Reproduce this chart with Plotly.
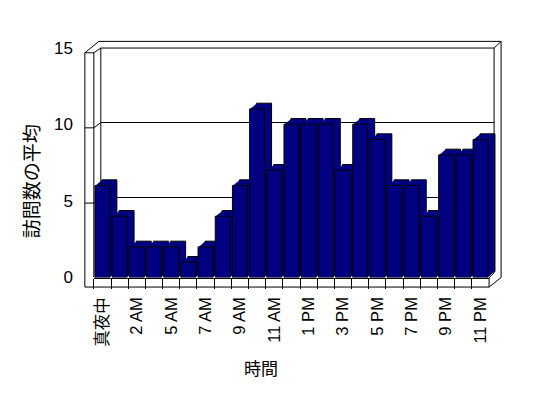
import plotly.graph_objects as go

# ---- data ----
hours = ["真夜中", "1 AM", "2 AM", "3 AM", "5 AM", "6 AM", "7 AM", "8 AM", "9 AM",
         "10 AM", "11 AM", "正午", "1 PM", "2 PM", "3 PM", "4 PM", "5 PM", "6 PM",
         "7 PM", "8 PM", "9 PM", "10 PM", "11 PM"]
visits = [6, 4, 2, 2, 2, 1, 2, 4, 6, 11, 7, 10, 10, 10, 7, 10, 9, 6, 6, 4, 8, 8, 9]
y_ticks = [0, 5, 10, 15]
grid_vals = [5, 10]
x_title = "時間"
y_title = "訪問数の平均"

W, H = 548, 398
def fx(p): return p / W
def fy(p): return 1 - p / H

NAVY = "#000080"
FONT = "Liberation Sans, Arial, Noto Sans CJK JP, sans-serif"
CJK = "Noto Sans CJK JP, sans-serif"

# geometry (px)
X0, X1 = 93, 489          # front floor edge
Y0, Y15 = 282, 40.5       # front bar scale
WX0, WX1 = 100, 494       # back wall
WY0, WY15 = 277.3, 40.3   # back wall scale
DX, DY = 7, 6             # depth

fig = go.Figure()
layout = dict(
    width=W, height=H, autosize=False,
    margin=dict(l=0, r=0, t=0, b=0),
    paper_bgcolor="white", plot_bgcolor="rgba(0,0,0,0)",
    showlegend=False, bargap=0.13, hovermode=False,
)

# subplot 1: back wall gridlines
fig.add_trace(go.Scatter(x=[], y=[], xaxis="x", yaxis="y"))
layout["xaxis"] = dict(domain=[fx(WX0), fx(WX1)], range=[0, 1], anchor="y",
                       showgrid=False, showticklabels=False, ticks="",
                       zeroline=False, showline=False)
layout["yaxis"] = dict(domain=[fy(WY0), fy(WY15)], range=[0, 15], anchor="x",
                       tickmode="array", tickvals=grid_vals, showticklabels=False,
                       ticks="", showgrid=True, gridcolor="black", gridwidth=1,
                       zeroline=False, showline=False)

# bar copies for a 3-D look: back (outlined), intermediates, front (outlined)
shifts = [7, 6, 5, 4, 3, 2, 1, 0]
for i, k in enumerate(shifts):
    idx = i + 2
    dx = k
    dy = k * DY / DX
    outlined = k in (0, DX)
    fig.add_trace(go.Bar(
        x=hours, y=visits, xaxis=f"x{idx}", yaxis=f"y{idx}",
        marker=dict(color=NAVY,
                    line=dict(color="black", width=1 if outlined else 0)),
    ))
    xa = dict(domain=[fx(X0 + dx), fx(X1 + dx)], anchor=f"y{idx}",
              type="category", range=[-0.5, len(hours) - 0.5])
    ya = dict(domain=[fy(Y0 - dy), fy(Y15 - dy)], anchor=f"x{idx}",
              range=[0, 15])
    if k == 0:
        xa.update(tickmode="array", tickvals=hours,
                  ticktext=[h if j % 2 == 0 else "" for j, h in enumerate(hours)],
                  tickson="boundaries", ticks="outside", ticklen=10,
                  tickwidth=1, tickcolor="black", showline=True,
                  linecolor="black", linewidth=1, showgrid=False,
                  zeroline=False, tickangle=-90, ticklabelstandoff=12,
                  tickfont=dict(family=FONT, size=16.5, color="black"))
        ya.update(anchor="free", position=fx(84), tickmode="array",
                  tickvals=y_ticks, showgrid=False, showline=False,
                  zeroline=False, ticks="", ticklabelstandoff=12,
                  tickfont=dict(family=FONT, size=17, color="black"))
    else:
        xa.update(visible=False)
        ya.update(visible=False)
    layout[f"xaxis{idx}"] = xa
    layout[f"yaxis{idx}"] = ya

# wall / floor frame lines
def seg(x0, y0, x1, y1):
    return dict(type="line", xref="paper", yref="paper",
                x0=fx(x0), y0=fy(y0), x1=fx(x1), y1=fy(y1),
                line=dict(color="black", width=1), layer="below")

shapes = [
    seg(84, 46, 84, 292), seg(84, 292, 489, 292), seg(93, 46, 93, 282),
    seg(84, 46, 93, 46), seg(84, 46, 98, 34), seg(93, 46, 100, 41),
    seg(98, 34, 501, 34), seg(100, 41, 494, 41), seg(100, 41, 100, 277),
    seg(494, 41, 494, 277), seg(494, 41, 501, 34), seg(501, 34, 501, 282),
    seg(489, 292, 501, 282), seg(489, 282, 494, 277), seg(489, 282, 489, 292),
]
for v in grid_vals:
    yb = WY0 - v * (WY0 - WY15) / 15
    yf = yb + 5.5
    shapes.append(seg(84, yf, 93, yf))
    shapes.append(seg(93, yf, 100, yb))
layout["shapes"] = shapes

layout["annotations"] = [
    dict(text=x_title, xref="paper", yref="paper", x=fx(260), y=fy(376),
         xanchor="center", yanchor="middle",
         showarrow=False, font=dict(family=CJK, size=17, color="black")),
    dict(text=y_title, xref="paper", yref="paper", x=fx(29), y=fy(181),
         xanchor="center", yanchor="middle",
         textangle=-90, showarrow=False,
         font=dict(family=CJK, size=19, color="black")),
]

fig.update_layout(**layout)
fig.write_html("out.html")
